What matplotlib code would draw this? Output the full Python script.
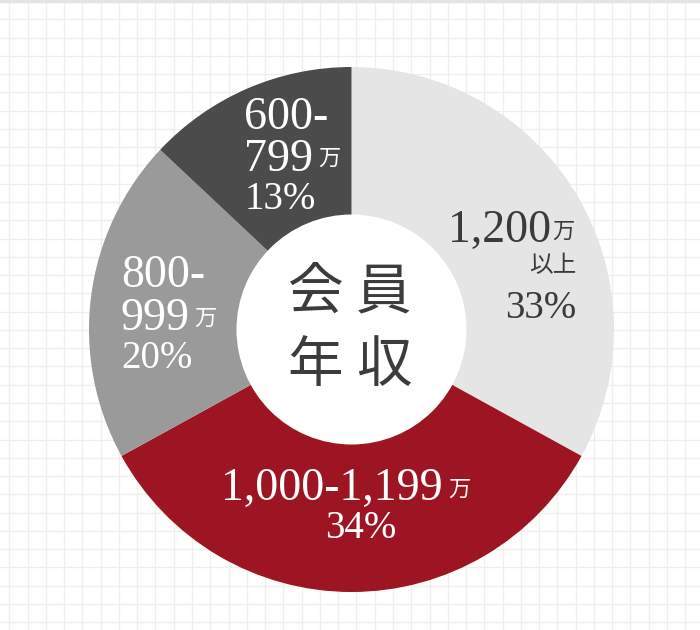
import numpy as np
import matplotlib
matplotlib.use("Agg")
import matplotlib.pyplot as plt
from matplotlib.patches import Circle

# ---- data ----
categories = ["1,200万以上", "1,000-1,199万", "800-999万", "600-799万"]
shares = [33, 34, 20, 13]
center_title = ["会", "員", "年", "収"]

colors = ["#e5e5e5", "#9d1423", "#9a9a9a", "#4b4b4b"]

W, H = 700, 630
fig = plt.figure(figsize=(W / 100, H / 100), dpi=100)
ax = fig.add_axes([0, 0, 1, 1])
ax.set_xlim(0, W)
ax.set_ylim(0, H)
ax.set_aspect("equal")
ax.axis("off")

def Y(y_img):
    return H - y_img

# background grid
for x in np.arange(9.3, W, 18.27):
    ax.axvline(x, color="#eeeeee", lw=0.9, zorder=0)
for y in np.arange(19.3, H, 18.27):
    ax.axhline(Y(y), color="#eeeeee", lw=0.9, zorder=0)
ax.axhline(Y(1), color="#e4e4e4", lw=2.5, zorder=0)

cx, cy, R, r_in = 351.5, Y(329.5), 262.5, 115
ax.pie(shares, colors=colors, startangle=90, counterclock=False,
       radius=R, center=(cx, cy), wedgeprops=dict(linewidth=0))
ax.add_patch(Circle((cx, cy), r_in, facecolor="white", edgecolor="none", zorder=3))
ax.set_xlim(0, W)
ax.set_ylim(0, H)

SERIF = ["Liberation Serif", "DejaVu Serif"]
CJK = ["Noto Sans CJK JP", "DejaVu Sans"]
big, pct, small = 33, 28, 16
dark = "#3a3a3a"

def t(x, y, s, size, color, fam, ha="left", va="baseline"):
    ax.text(x, Y(y), s, fontsize=size, color=color, family=fam, ha=ha, va=va, zorder=5)

# 1,200万以上 33%
t(551, 242, "1,200", big, dark, SERIF, ha="right")
t(552, 231, "万", small, dark, CJK, va="center")
t(576, 266, "以上", 17, dark, CJK, ha="right", va="center")
t(576, 318, f"{shares[0]}%", pct, dark, SERIF, ha="right")

# 1,000-1,199万 34%
t(221, 500, "1,000-1,199", big, "white", SERIF)
t(448, 489, "万", small, "white", CJK, va="center")
t(361, 538, f"{shares[1]}%", pct, "white", SERIF, ha="center")

# 800-999万 20%
t(121, 287, "800-", big, "white", SERIF)
t(121, 330, "999", big, "white", SERIF)
t(194, 318, "万", small, "white", CJK, va="center")
t(121, 368, f"{shares[2]}%", pct, "white", SERIF)

# 600-799万 13%
t(244, 129, "600-", big, "white", SERIF)
t(244, 171, "799", big, "white", SERIF)
t(318, 158, "万", small, "white", CJK, va="center")
t(245, 209, f"{shares[3]}%", pct, "white", SERIF)

# center title
pos = [(316, 293), (384, 293), (315, 366), (384, 366)]
for (x, y), ch in zip(pos, center_title):
    t(x, y, ch, 40, "#3c3c3c", CJK, ha="center", va="center")

fig.savefig("out.png", dpi=100, facecolor="white")
